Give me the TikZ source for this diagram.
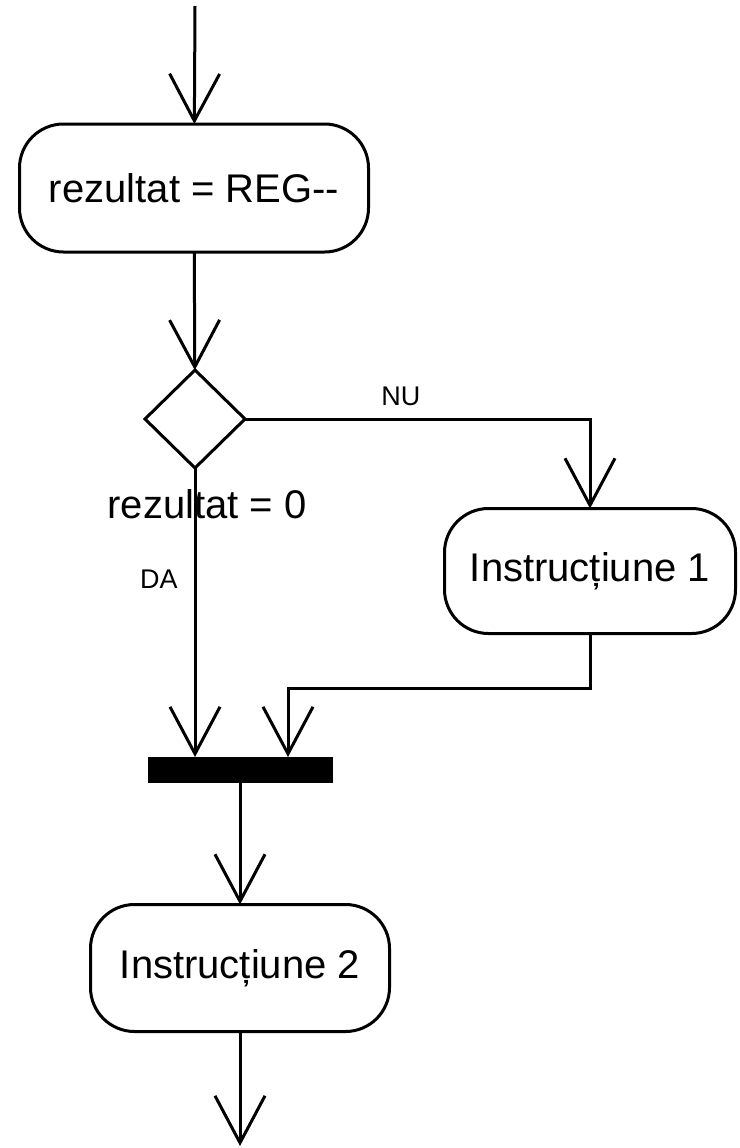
\documentclass[tikz,border=0pt]{standalone}
\usepackage{fontspec}
\setmainfont{Liberation Sans}
\usetikzlibrary{arrows.meta,shapes.geometric}
\begin{document}
\begin{tikzpicture}[x=1pt,y=-1pt,
  every node/.style={inner sep=0pt,outer sep=0pt},
  flow/.style={line width=3pt,-{Straight Barb[length=47pt,width=50pt]}},
  action/.style={draw,line width=3pt,rounded corners=44pt,
    font=\fontsize{40}{48}\selectfont},
  decision/.style={draw,line width=3pt,diamond,aspect=1},
  syncbar/.style={fill=black,draw=none,rectangle},
  biglabel/.style={font=\fontsize{40}{48}\selectfont},
  smalllabel/.style={font=\fontsize{27}{32}\selectfont}
]
\useasboundingbox (0,0) rectangle (739,1148);

% activity nodes
\coordinate (start) at (195,6);
\node[action,minimum width=349pt,minimum height=128pt] (a1) at (194,188) {rezultat = REG-{}-};
\node[decision,minimum width=100pt,minimum height=98pt] (d) at (195,419) {};
\node[action,minimum width=291pt,minimum height=125pt] (a2) at (590,571) {Instrucțiune 1};
\node[syncbar,minimum width=185pt,minimum height=26pt] (bar) at (240,770) {};
\node[action,minimum width=299pt,minimum height=127pt] (a3) at (240,968) {Instrucțiune 2};
\coordinate (in2) at (288,757);
\coordinate (end) at (240,1146);

% control flow
\draw[flow] (start) -- (a1);
\draw[flow] (a1) -- (d);
\draw[flow] (d.east) -| node[pos=0.226,above=13pt,anchor=south,smalllabel] (nu) {NU} (a2);
\node[biglabel] (cond) at (207,504) {rezultat = 0};
\node[smalllabel] (da) at (159,579) {DA};
\draw[flow] (d.south) -- (d.south |- bar.north);
\draw[flow] (a2.south) -- ++(0,55) -| (in2);
\draw[flow] (bar.south) -- (a3);
\draw[flow] (a3) -- (end);
\end{tikzpicture}
\end{document}
